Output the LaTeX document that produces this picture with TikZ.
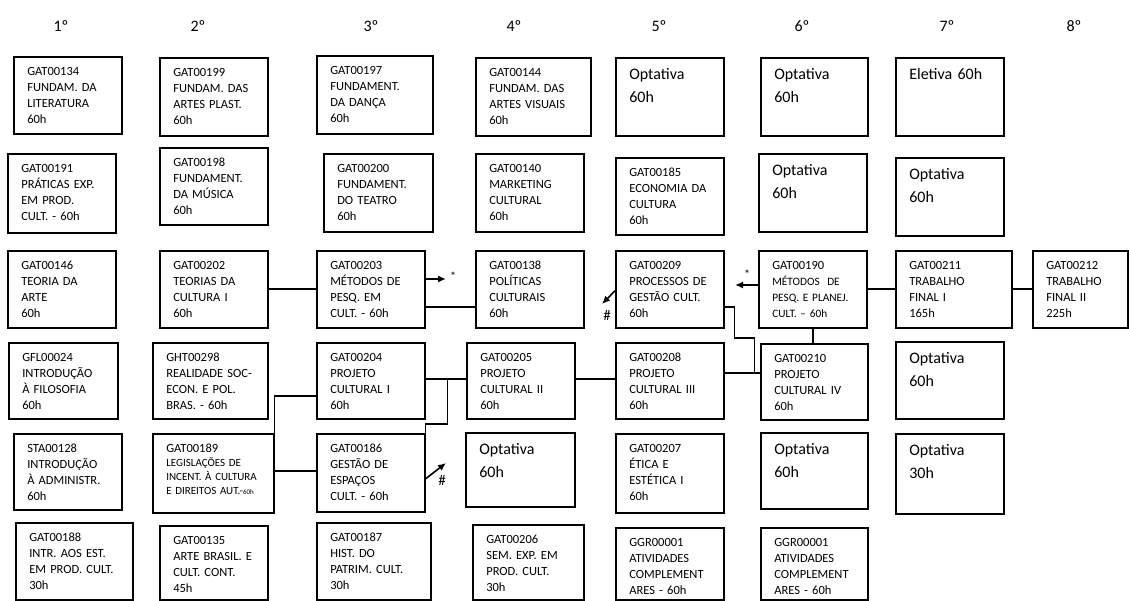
\documentclass[tikz,border=0pt]{standalone}
\usepackage{fontspec}
\setmainfont{Carlito}
\usetikzlibrary{arrows.meta}

\begin{document}
\begin{tikzpicture}
  [x=1pt, y=-1pt, line width=1.6pt,
   box/.style 2 args={draw, anchor=north west, align=left, inner xsep=13.5pt, inner ysep=0pt,
     /utils/exec={\pgfmathsetlengthmacro\boxtw{#1-27}\pgfmathsetlengthmacro\boxtd{#2-19}},
     text width=\boxtw, text height=19pt, text depth=\boxtd,
     font=\fontsize{12.5}{16}\selectfont},
   opt/.style 2 args={box={#1}{#2}, text height=22pt,
     /utils/exec={\pgfmathsetlengthmacro\boxtd{#2-22}},
     font=\fontsize{16}{23}\selectfont},
   sem/.style={anchor=base, font=\fontsize{16}{19}\selectfont},
   link/.style={-{Latex[length=8pt,width=7pt]}},
   tag/.style={inner sep=0pt, font=\fontsize{15}{15}\selectfont}]
  \useasboundingbox (0,0) rectangle (1129,601);

  % semesters
  \node [sem, name=sem1] at (61,31.5) {1º};
  \node [sem, name=sem2] at (198,31.5) {2º};
  \node [sem, name=sem3] at (371,31.5) {3º};
  \node [sem, name=sem4] at (514,31.5) {4º};
  \node [sem, name=sem5] at (659,31.5) {5º};
  \node [sem, name=sem6] at (802,31.5) {6º};
  \node [sem, name=sem7] at (947,31.5) {7º};
  \node [sem, name=sem8] at (1074,31.5) {8º};

  % 1st
  \node [box={108}{77}, name=g134] at (13,56) {GAT00134\\FUNDAM. DA\\LITERATURA\\60h};
  \node [box={108}{79}, name=g191] at (7,153) {GAT00191\\PRÁTICAS EXP.\\EM PROD.\\CULT. - 60h};
  \node [box={108}{77}, name=g146] at (7,250) {GAT00146\\TEORIA DA\\ARTE\\60h};
  \node [box={109}{76}, name=gfl24] at (8,342) {GFL00024\\INTRODUÇÃO\\À FILOSOFIA\\60h};
  \node [box={108}{76}, name=sta128] at (13,433) {STA00128\\INTRODUÇÃO\\À ADMINISTR.\\60h};
  \node [box={117}{77}, name=g188] at (15,522) {GAT00188\\INTR. AOS EST.\\EM PROD. CULT.\\30h};

  % 2nd
  \node [box={108}{78}, name=g199] at (159,57) {GAT00199\\FUNDAM. DAS\\ARTES PLAST.\\60h};
  \node [box={108}{77}, name=g198] at (159,147) {GAT00198\\FUNDAMENT.\\DA MÚSICA\\60h};
  \node [box={108}{77}, name=g202] at (159,250) {GAT00202\\TEORIAS DA\\CULTURA I\\60h};
  \node [box={115}{76}, name=ght298] at (152,342) {GHT00298\\REALIDADE SOC-\\ECON. E POL.\\BRAS. - 60h};
  \node [box={121}{79}, name=g189, font=\fontsize{11}{14}\selectfont] at (152,433)
    {{\fontsize{12.5}{14}\selectfont GAT00189}\\LEGISLAÇÕES DE\\INCENT. À CULTURA\\E DIREITOS AUT.-{\fontsize{7}{8}\selectfont 60h}};
  \node [box={108}{74}, name=g135] at (159,525) {GAT00135\\ARTE BRASIL. E\\CULT. CONT.\\45h};

  % 3rd
  \node [box={116}{78}, name=g197] at (316,55) {GAT00197\\FUNDAMENT.\\DA DANÇA\\60h};
  \node [box={109}{78}, name=g200] at (323,153) {GAT00200\\FUNDAMENT.\\DO TEATRO\\60h};
  \node [box={108}{77}, name=g203] at (316,250) {GAT00203\\MÉTODOS DE\\PESQ. EM\\CULT. - 60h};
  \node [box={108}{76}, name=g204] at (316,342) {GAT00204\\PROJETO\\CULTURAL I\\60h};
  \node [box={108}{78}, name=g186] at (316,433) {GAT00186\\GESTÃO DE\\ESPAÇOS\\CULT. - 60h};
  \node [box={114}{77}, name=g187] at (316,522) {GAT00187\\HIST. DO\\PATRIM. CULT.\\30h};

  % 4th
  \node [box={115}{78}, name=g144] at (475,57) {GAT00144\\FUNDAM. DAS\\ARTES VISUAIS\\60h};
  \node [box={108}{78}, name=g140] at (475,153) {GAT00140\\MARKETING\\CULTURAL\\60h};
  \node [box={108}{77}, name=g138] at (475,250) {GAT00138\\POLÍTICAS\\CULTURAIS\\60h};
  \node [box={108}{76}, name=g205] at (466,342) {GAT00205\\PROJETO\\CULTURAL II\\60h};
  \node [opt={109}{74}, name=opt4] at (465,432) {Optativa\\60h};
  \node [box={111}{75}, name=g206] at (472,524) {GAT00206\\SEM. EXP. EM\\PROD. CULT.\\30h};

  % 5th
  \node [opt={108}{78}, name=opt5] at (615,57) {Optativa\\60h};
  \node [box={108}{77}, name=g185] at (615,157) {GAT00185\\ECONOMIA DA\\CULTURA\\60h};
  \node [box={108}{77}, name=g209] at (615,250) {GAT00209\\PROCESSOS DE\\GESTÃO CULT.\\60h};
  \node [box={108}{76}, name=g208] at (615,342) {GAT00208\\PROJETO\\CULTURAL III\\60h};
  \node [box={108}{79}, name=g207] at (615,433) {GAT00207\\ÉTICA E\\ESTÉTICA I\\60h};
  \node [box={108}{72}, name=ggr5] at (615,527) {GGR00001\\ATIVIDADES\\COMPLEMENT\\ARES - 60h};

  % 6th
  \node [opt={107}{78}, name=opt6a] at (760,57) {Optativa\\60h};
  \node [opt={108}{78}, name=opt6b] at (758,153) {Optativa\\60h};
  \node [box={108}{77}, name=g190, font=\fontsize{11.3}{16}\selectfont] at (758,250)
    {{\fontsize{12.5}{16}\selectfont GAT00190}\\MÉTODOS\ \ DE\\PESQ. E PLANEJ.\\CULT. – 60h};
  \node [box={107}{76}, name=g210] at (760,343) {GAT00210\\PROJETO\\CULTURAL IV\\60h};
  \node [opt={107}{76}, name=opt6c] at (760,432) {Optativa\\60h};
  \node [box={107}{72}, name=ggr6] at (760,527) {GGR00001\\ATIVIDADES\\COMPLEMENT\\ARES - 60h};

  % 7th
  \node [opt={108}{78}, name=ele7] at (895,57) {Eletiva 60h};
  \node [opt={108}{78}, name=opt7a] at (895,157) {Optativa\\60h};
  \node [box={116}{77}, name=g211] at (895,250) {GAT00211\\TRABALHO\\FINAL I\\165h};
  \node [opt={108}{77}, name=opt7b] at (895,341) {Optativa\\60h};
  \node [opt={108}{80}, name=opt7c] at (895,433) {Optativa\\30h};

  % 8th
  \node [box={95}{77}, name=g212] at (1032,250) {GAT00212\\TRABALHO\\FINAL II\\225h};

  % free ends of the arrows
  \coordinate (a1) at (446,279);
  \coordinate (a2) at (735,285);
  \coordinate (a3) at (602,304);
  \coordinate (a4) at (446,463);
  \node [tag, name=star1, font=\fontsize{12}{12}\selectfont] at (453,276) {*};
  \node [tag, name=star2, font=\fontsize{12}{12}\selectfont] at (747,274) {*};
  \node [tag, name=hash1] at (607,315) {\#};
  \node [tag, name=hash2] at (442,480) {\#};

  \draw (g202.east) -- (g203.west);
  \draw [link] (g203.east |- a1) -- (a1);
  \draw ([yshift=-17.5pt]g203.east) -- ([yshift=-17.5pt]g138.west);
  \draw ([yshift=2pt]g204.east) -- ([yshift=2pt]g205.west);
  \draw ([yshift=2pt]g205.east) -- ([yshift=2pt]g205.east -| g208.west);
  \draw ([xshift=22pt,yshift=2pt]g204.east) |- ([yshift=9pt]g186.north east) -- (g186.north east);
  \draw ([yshift=-15pt]g204.west) -| ([yshift=2pt]g186.west -| g189.east) -- ([yshift=2pt]g186.west);
  \draw [link] ([yshift=-6pt]g186.east) -- (a4);
  \draw [link] ([yshift=-1.5pt]g209.west) -- (a3);
  \draw [link] (g190.west |- a2) -- (a2);
  \draw ([yshift=-17.5pt]g209.east) -- ++(10,0) -- ++(0,31) -- ++(20,0) -- ++(0,35);
  \draw ([yshift=8pt]g208.east) -- ([yshift=8pt]g208.east -| g210.west);
  \draw (g190.south) -- (g190.south |- g210.north);
  \draw (g190.east) -- (g211.west);
  \draw (g211.east) -- (g212.west);
\end{tikzpicture}
\end{document}
